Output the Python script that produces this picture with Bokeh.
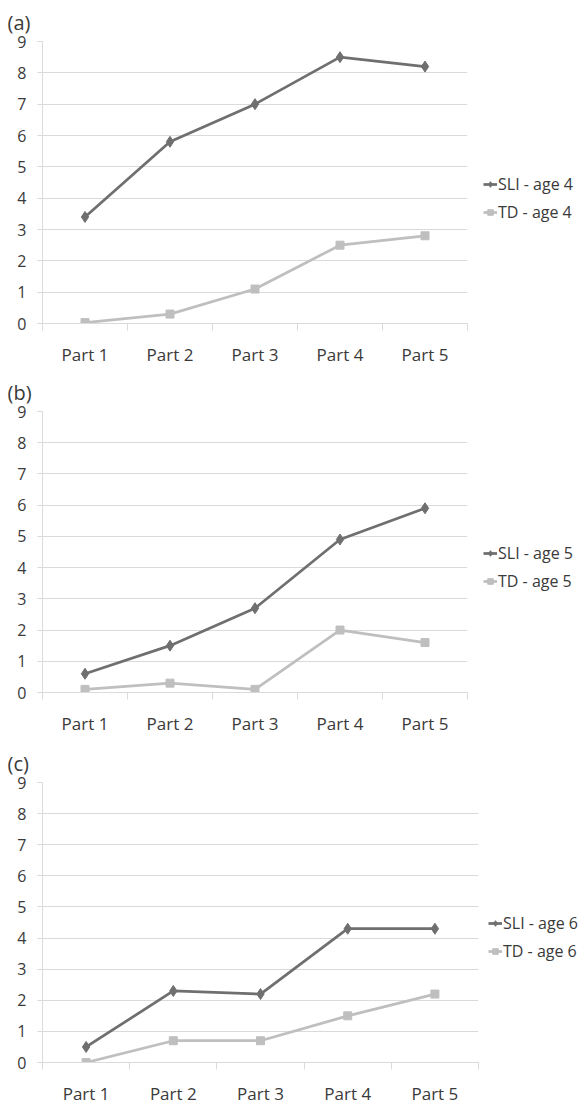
from bokeh.plotting import figure
from bokeh.models import FixedTicker, Legend, LegendItem, Range1d
from bokeh.embed import file_html
from bokeh.resources import INLINE

categories = ["Part 1", "Part 2", "Part 3", "Part 4", "Part 5"]
y_ticks = [0, 1, 2, 3, 4, 5, 6, 7, 8, 9]
panel_labels = ["(a)", "(b)", "(c)"]
sli_labels = ["SLI - age 4", "SLI - age 5", "SLI - age 6"]
td_labels = ["TD - age 4", "TD - age 5", "TD - age 6"]

sli_a = [3.4, 5.8, 7.0, 8.5, 8.2]
td_a = [0.03, 0.3, 1.1, 2.5, 2.8]
sli_b = [0.6, 1.5, 2.7, 4.9, 5.9]
td_b = [0.1, 0.3, 0.1, 2.0, 1.6]
sli_c = [0.5, 2.3, 2.2, 4.3, 4.3]
td_c = [0.0, 0.7, 0.7, 1.5, 2.2]

SLI_COLOR = "#6f6f6f"
TD_COLOR = "#bfbfbf"
GRID = "#dadada"
TEXT = "#3a3a3a"
FONT = "Open Sans"

xpos = list(range(1, len(categories) + 1))


def make_panel(label, sli, td, sli_name, td_name, frame_w, frame_h, bottom, right, legend_x):
    p = figure(frame_width=frame_w, frame_height=frame_h, output_backend="svg",
               toolbar_location=None,
               x_range=Range1d(0.5, len(categories) + 0.5), y_range=Range1d(0, 9),
               min_border_left=42, min_border_right=right, min_border_top=41,
               min_border_bottom=bottom)
    p.outline_line_color = None
    p.background_fill_color = "white"

    p.title.text = label
    p.title.text_font = FONT
    p.title.text_font_size = "20px"
    p.title.text_font_style = "normal"
    p.title.text_color = TEXT
    p.title.align = "left"
    p.title.offset = -35
    p.title.standoff = 12

    p.xgrid.visible = False
    p.ygrid.ticker = FixedTicker(ticks=y_ticks)
    p.ygrid.grid_line_color = GRID
    p.ygrid.grid_line_width = 1

    xa = p.xaxis[0]
    xa.ticker = FixedTicker(ticks=xpos, minor_ticks=[x - 0.5 for x in xpos] + [xpos[-1] + 0.5])
    xa.major_label_overrides = {x: c for x, c in zip(xpos, categories)}
    xa.axis_line_color = GRID
    xa.major_tick_out = 0
    xa.major_tick_in = 0
    xa.minor_tick_out = 7
    xa.minor_tick_in = 0
    xa.minor_tick_line_color = GRID
    xa.major_label_standoff = 12
    xa.major_label_text_font = FONT
    xa.major_label_text_font_size = "17px"
    xa.major_label_text_color = TEXT

    ya = p.yaxis[0]
    ya.ticker = FixedTicker(ticks=y_ticks)
    ya.axis_line_color = GRID
    ya.major_tick_out = 5
    ya.major_tick_in = 0
    ya.major_tick_line_color = GRID
    ya.minor_tick_line_color = None
    ya.major_label_standoff = 11
    ya.major_label_text_font = FONT
    ya.major_label_text_font_size = "16px"
    ya.major_label_text_color = TEXT

    l1 = p.line(xpos, sli, line_color=SLI_COLOR, line_width=2.75)
    m1 = p.scatter(xpos, sli, marker="diamond", size=11, fill_color=SLI_COLOR, line_color=SLI_COLOR)
    l2 = p.line(xpos, td, line_color=TD_COLOR, line_width=2.75)
    m2 = p.scatter(xpos, td, marker="square", size=8, fill_color=TD_COLOR, line_color=TD_COLOR)

    legend = Legend(items=[LegendItem(label=sli_name, renderers=[l1, m1]),
                           LegendItem(label=td_name, renderers=[l2, m2])],
                    location=(legend_x, 100), orientation="vertical",
                    padding=0, margin=0, spacing=6, glyph_width=14, glyph_height=20,
                    label_height=20, label_standoff=1, border_line_color=None,
                    background_fill_alpha=0, label_text_font=FONT,
                    label_text_font_size="16px", label_text_color=TEXT)
    p.add_layout(legend, "right")
    return p


pa = make_panel(panel_labels[0], sli_a, td_a, sli_labels[0], td_labels[0], 425, 282, 47, 113, 16)
pb = make_panel(panel_labels[1], sli_b, td_b, sli_labels[1], td_labels[1], 425, 281, 49, 113, 16)
pc = make_panel(panel_labels[2], sli_c, td_c, sli_labels[2], td_labels[2], 436, 280, 42, 102, 10)

open("out.html", "w").write(file_html([pa, pb, pc], INLINE))
